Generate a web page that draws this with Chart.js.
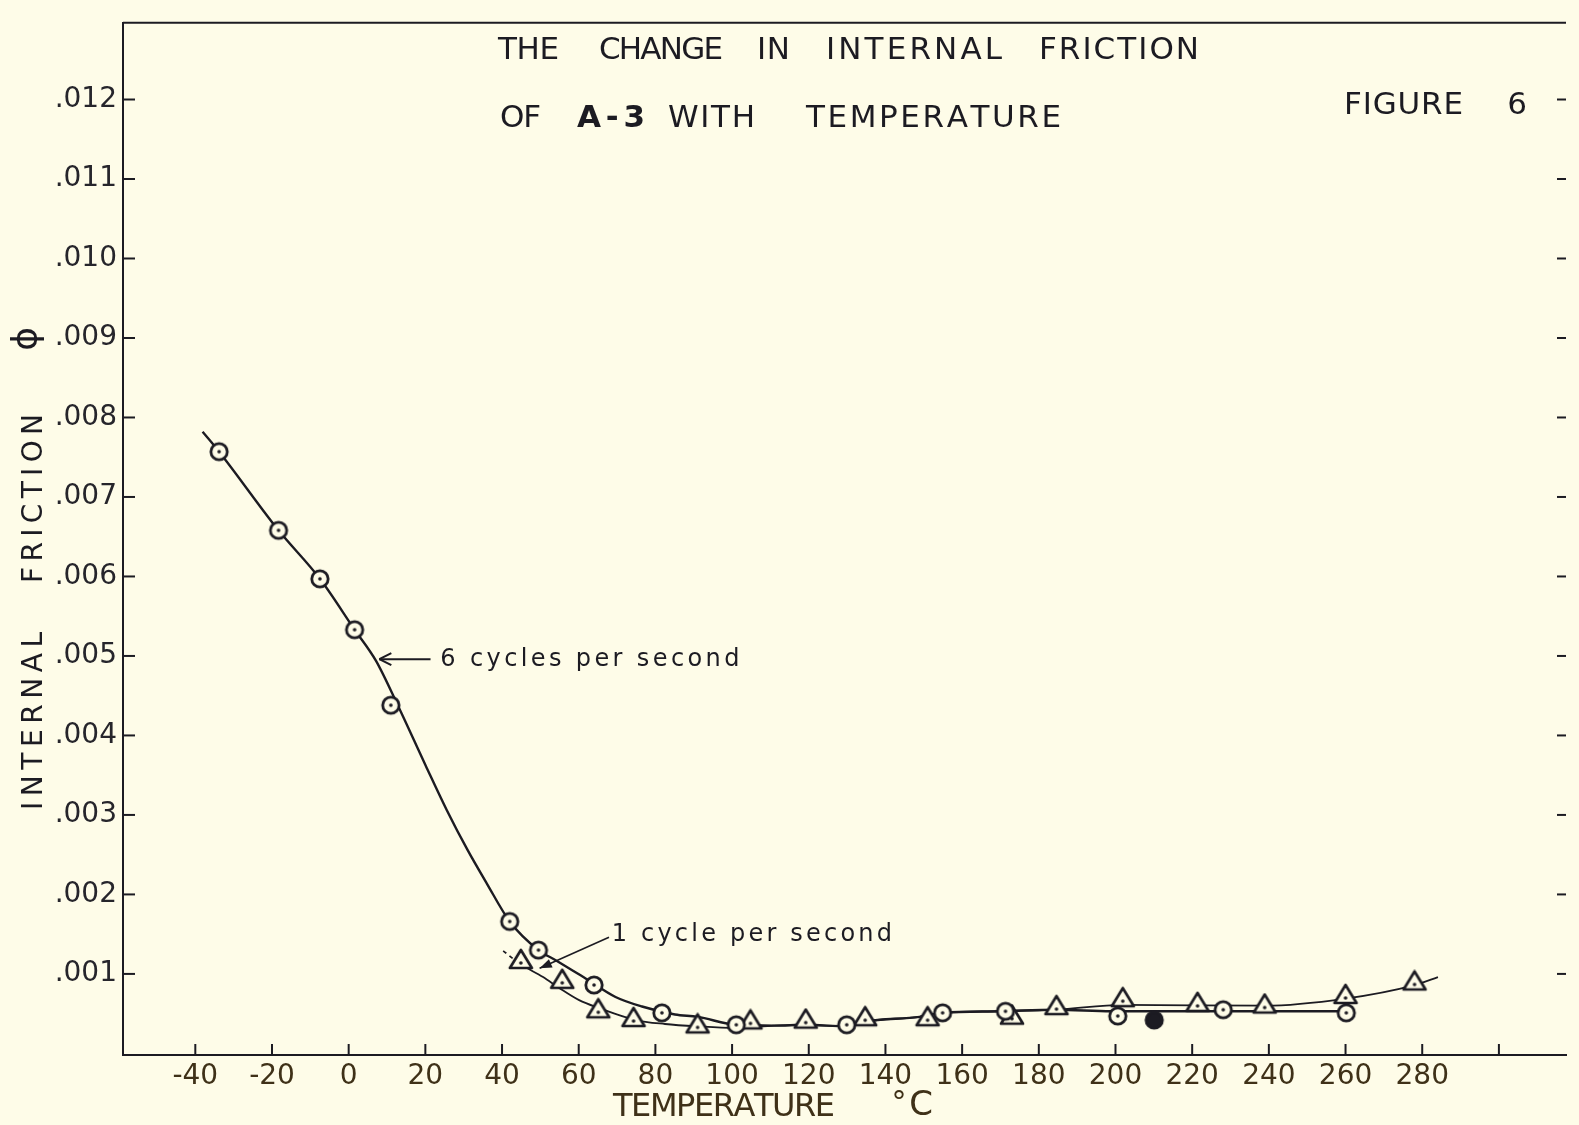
<!DOCTYPE html>
<html>
<head>
<meta charset="utf-8">
<title>The change in internal friction of A-3 with temperature</title>
<script src="https://cdn.jsdelivr.net/npm/chart.js@4.4.1/dist/chart.umd.min.js"></script>
<style>
  html, body { margin: 0; padding: 0; background: #fefce8; }
  canvas { display: block; }
</style>
</head>
<body>
<canvas id="fig6" width="1579" height="1125" style="width:1579px;height:1125px"></canvas>
<script>
// Readings at 6 cycles per second (circles): temperature °C, internal friction φ
const temp6 = [-33.8, -18.3, -7.5, 1.55, 11.0, 42.0, 49.5, 64.0, 81.7, 101.1, 129.9, 154.9, 171.3, 200.6, 210.1, 228.1, 260.2];
const phi6  = [0.00757, 0.00658, 0.00597, 0.00533, 0.00438, 0.00166, 0.00130, 0.00086, 0.00051, 0.00036, 0.00036, 0.00051, 0.00053, 0.00047, 0.00042, 0.00055, 0.00051];

// Readings at 1 cycle per second (triangles)
const temp1 = [44.9, 55.7, 65.1, 74.3, 91.0, 104.8, 119.2, 134.7, 151.0, 173.0, 184.6, 201.9, 221.4, 238.9, 260.0, 278.0];
const phi1  = [0.00115, 0.00090, 0.00053, 0.00042, 0.00034, 0.00039, 0.00040, 0.00043, 0.00043, 0.00045, 0.00057, 0.00067, 0.00061, 0.00059, 0.00071, 0.00088];

// Faired curve drawn through the 6 c/s readings
const curve6Temp = [-38.1, -33.8, -18.3, -7.5, 1.55, 7.1, 12.8, 20.1, 25.6, 31.0, 36.0, 42.0, 49.5, 54.1, 61.9, 69.6, 76.5, 85.1, 91.0, 101.1, 111, 119.2, 129.9, 134.7, 148.9, 154.9, 169.6, 184.6, 198.9, 228, 260];
const curve6Phi  = [0.00782, 0.00757, 0.00658, 0.00597, 0.00533, 0.00494, 0.00438, 0.00362, 0.00306, 0.00256, 0.00214, 0.00166, 0.00130, 0.00117, 0.00094, 0.00071, 0.00059, 0.00049, 0.00046, 0.00036, 0.00035, 0.00036, 0.00034, 0.00040, 0.00046, 0.00051, 0.00053, 0.00055, 0.00053, 0.00053, 0.00053];

// Faired curve drawn through the 1 c/s readings
const curve1Temp = [40.3, 44.6, 50.7, 55.0, 60.1, 65.3, 74.8, 82.5, 91.0, 100.6, 111, 119.2, 129.9, 134.7, 148.9, 154.9, 169.6, 184.6, 201.9, 238.9, 260, 278, 284.1];
const curve1Phi  = [0.00129, 0.00113, 0.00096, 0.00082, 0.00067, 0.00057, 0.00042, 0.00037, 0.00034, 0.00032, 0.00035, 0.00036, 0.00034, 0.00040, 0.00046, 0.00051, 0.00053, 0.00055, 0.00061, 0.00060, 0.00069, 0.00086, 0.00096];

// Axis ticks
const tempTicks  = [-40, -20, 0, 20, 40, 60, 80, 100, 120, 140, 160, 180, 200, 220, 240, 260, 280, 300];
const tempLabels = ['-40', '-20', '0', '20', '40', '60', '80', '100', '120', '140', '160', '180', '200', '220', '240', '260', '280', ''];
const phiTicks   = [0.001, 0.002, 0.003, 0.004, 0.005, 0.006, 0.007, 0.008, 0.009, 0.010, 0.011, 0.012];
const phiLabels  = ['.001', '.002', '.003', '.004', '.005', '.006', '.007', '.008', '.009', '.010', '.011', '.012'];

// The reading near 210 °C is inked solid
const SOLID_READING_6 = 14;

const paper = '#fefce8';
const ink = '#1c1b22';
const brownInk = '#3f3118';
const FONT = '"DejaVu Sans", "Liberation Sans", sans-serif';

function circleMarker(solid) {
  const c = document.createElement('canvas');
  c.width = 24; c.height = 24;
  const g = c.getContext('2d');
  g.beginPath();
  g.arc(12, 12, 8.2, 0, Math.PI * 2);
  g.fillStyle = solid ? ink : paper;
  g.fill();
  g.lineWidth = 2.8;
  g.strokeStyle = ink;
  g.stroke();
  if (!solid) {
    g.beginPath();
    g.arc(12, 12, 1.8, 0, Math.PI * 2);
    g.fillStyle = ink;
    g.fill();
  }
  return c;
}

function triangleMarker() {
  const c = document.createElement('canvas');
  c.width = 30; c.height = 28;
  const g = c.getContext('2d');
  const cx = 15, cy = 14, h = 18, half = 11;
  g.beginPath();
  g.moveTo(cx, cy - 2 * h / 3);
  g.lineTo(cx + half, cy + h / 3);
  g.lineTo(cx - half, cy + h / 3);
  g.closePath();
  g.fillStyle = paper;
  g.fill();
  g.lineJoin = 'round';
  g.lineWidth = 2.7;
  g.strokeStyle = ink;
  g.stroke();
  g.beginPath();
  g.arc(cx, cy + 1, 1.8, 0, Math.PI * 2);
  g.fillStyle = ink;
  g.fill();
  return c;
}

const openCircle = circleMarker(false);
const solidCircle = circleMarker(true);
const triangle = triangleMarker();

const pairs = (xs, ys) => xs.map((x, i) => ({ x, y: ys[i] }));

// Spread the letters of a word evenly between x0 and x1, centred on cap height at y
function spacedText(ctx, text, x0, x1, y, size, color, weight) {
  ctx.save();
  ctx.font = (weight || 'normal') + ' ' + size + 'px ' + FONT;
  ctx.fillStyle = color;
  ctx.textAlign = 'left';
  ctx.textBaseline = 'alphabetic';
  const chars = [...text];
  const widths = chars.map(ch => ctx.measureText(ch).width);
  const total = widths.reduce((a, b) => a + b, 0);
  const gap = chars.length > 1 ? (x1 - x0 - total) / (chars.length - 1) : 0;
  let x = chars.length > 1 ? x0 : (x0 + x1 - total) / 2;
  const base = y + 0.365 * size;
  chars.forEach((ch, i) => {
    ctx.fillText(ch, x, base);
    x += widths[i] + gap;
  });
  ctx.restore();
}

function stroke(ctx, x0, y0, x1, y1) {
  ctx.beginPath();
  ctx.moveTo(x0, y0);
  ctx.lineTo(x1, y1);
  ctx.stroke();
}

const lettering = {
  id: 'lettering',
  beforeDraw(chart) {
    const { ctx, width, height } = chart;
    ctx.save();
    ctx.fillStyle = paper;
    ctx.fillRect(0, 0, width, height);
    ctx.restore();
  },
  afterDraw(chart) {
    const { ctx, chartArea: a, scales: { x, y } } = chart;
    ctx.save();
    ctx.strokeStyle = ink;
    ctx.lineWidth = 2;

    // top edge of the frame
    stroke(ctx, a.left, a.top, a.right, a.top);

    // tick marks drawn inward from the axes
    x.ticks.forEach(t => {
      const px = x.getPixelForValue(t.value);
      stroke(ctx, px, a.bottom, px, a.bottom - 11);
    });
    y.ticks.forEach(t => {
      const py = y.getPixelForValue(t.value);
      stroke(ctx, a.left, py, a.left + 12, py);
      stroke(ctx, a.right, py, a.right - 9, py);
    });

    // title
    const t1 = 48, t2 = 116, ts = 31;
    spacedText(ctx, 'THE', 498, 559, t1, ts, ink);
    spacedText(ctx, 'CHANGE', 599, 723, t1, ts, ink);
    spacedText(ctx, 'IN', 757, 790, t1, ts, ink);
    spacedText(ctx, 'INTERNAL', 826, 1002, t1, ts, ink);
    spacedText(ctx, 'FRICTION', 1039, 1199, t1, ts, ink);
    spacedText(ctx, 'OF', 500, 541, t2, ts, ink);
    spacedText(ctx, 'A-3', 577, 645, t2, ts, ink, 'bold');
    spacedText(ctx, 'WITH', 668, 755, t2, ts, ink);
    spacedText(ctx, 'TEMPERATURE', 806, 1061, t2, ts, ink);
    spacedText(ctx, 'FIGURE', 1344, 1463, 103, ts, ink);
    spacedText(ctx, '6', 1509, 1525, 103, ts, ink);

    // vertical axis title, reading upward
    const vt = (word, yStart, yEnd, size) => {
      ctx.save();
      ctx.translate(32, yStart);
      ctx.rotate(-Math.PI / 2);
      spacedText(ctx, word, 0, yStart - yEnd, 0, size, ink);
      ctx.restore();
    };
    vt('INTERNAL', 810, 632, 28);
    vt('FRICTION', 583, 414, 28);
    ctx.save();
    ctx.translate(28, 339);
    ctx.rotate(-Math.PI / 2);
    ctx.font = '36px ' + FONT;
    ctx.fillStyle = ink;
    ctx.textAlign = 'center';
    ctx.textBaseline = 'middle';
    ctx.fillText('\u03D5', 0, 0);
    ctx.restore();

    // horizontal axis title
    spacedText(ctx, 'TEMPERATURE', 613, 835, 1104, 32, brownInk);
    ctx.save();
    ctx.font = '30px ' + FONT;
    ctx.fillStyle = brownInk;
    ctx.textAlign = 'center';
    ctx.textBaseline = 'alphabetic';
    ctx.fillText('\u00B0', 899, 1112);
    ctx.restore();
    spacedText(ctx, 'C', 912, 930, 1103, 34, brownInk);

    // "6 cycles per second" with its arrow
    const yA = y.getPixelForValue(0.00496);
    const tip6 = x.getPixelForValue(8.0);
    const tail6 = x.getPixelForValue(21.35);
    ctx.lineWidth = 2;
    stroke(ctx, tail6, yA, tip6, yA);
    stroke(ctx, tip6, yA, tip6 + 12, yA - 6);
    stroke(ctx, tip6, yA, tip6 + 12, yA + 6);
    spacedText(ctx, '6 cycles per second', x.getPixelForValue(23.9), x.getPixelForValue(101.9), yA - 2, 24, ink);

    // "1 cycle per second" with its leader
    const lx0 = x.getPixelForValue(67.9), ly0 = y.getPixelForValue(0.00146);
    const lx1 = x.getPixelForValue(49.8), ly1 = y.getPixelForValue(0.00107);
    ctx.lineWidth = 1.6;
    stroke(ctx, lx0, ly0, lx1, ly1);
    const ang = Math.atan2(ly1 - ly0, lx1 - lx0);
    ctx.beginPath();
    ctx.moveTo(lx1, ly1);
    ctx.lineTo(lx1 - 13 * Math.cos(ang - 0.35), ly1 - 13 * Math.sin(ang - 0.35));
    ctx.lineTo(lx1 - 13 * Math.cos(ang + 0.35), ly1 - 13 * Math.sin(ang + 0.35));
    ctx.closePath();
    ctx.fillStyle = ink;
    ctx.fill();
    spacedText(ctx, '1 cycle per second', x.getPixelForValue(68.6), x.getPixelForValue(141.7), y.getPixelForValue(0.00153), 24, ink);

    ctx.restore();
  }
};

new Chart(document.getElementById('fig6'), {
  type: 'scatter',
  data: {
    datasets: [
      {
        label: '6 cycles per second',
        data: pairs(temp6, phi6),
        showLine: false,
        pointStyle: c => (c.dataIndex === SOLID_READING_6 ? solidCircle : openCircle),
        pointRadius: 10,
        order: 0
      },
      {
        label: '1 cycle per second',
        data: pairs(temp1, phi1),
        showLine: false,
        pointStyle: triangle,
        pointRadius: 12,
        order: 0
      },
      {
        label: '6 c/s curve',
        data: pairs(curve6Temp, curve6Phi),
        showLine: true,
        fill: false,
        pointRadius: 0,
        borderColor: ink,
        borderWidth: 2.4,
        cubicInterpolationMode: 'monotone',
        order: 1
      },
      {
        label: '1 c/s curve',
        data: pairs(curve1Temp, curve1Phi),
        showLine: true,
        fill: false,
        pointRadius: 0,
        borderColor: ink,
        borderWidth: 1.8,
        cubicInterpolationMode: 'monotone',
        segment: {
          borderDash: c => (c.p0DataIndex === 0 ? [4, 4] : undefined)
        },
        order: 1
      }
    ]
  },
  options: {
    responsive: false,
    animation: false,
    devicePixelRatio: 1,
    layout: { padding: { top: 11, right: 0, bottom: 0, left: 0 } },
    plugins: {
      legend: { display: false },
      tooltip: { enabled: false }
    },
    scales: {
      x: {
        type: 'linear',
        min: -58.86,
        max: 317.5,
        afterBuildTicks: s => { s.ticks = tempTicks.map(v => ({ value: v })); },
        afterFit: s => { s.height = 70; },
        grid: { display: false, drawTicks: false },
        border: { display: true, color: ink, width: 2 },
        ticks: {
          autoSkip: false,
          maxRotation: 0,
          padding: 5,
          color: brownInk,
          font: { family: FONT, size: 28 },
          callback: (v, i) => tempLabels[i]
        }
      },
      y: {
        type: 'linear',
        min: -0.00002,
        max: 0.012965,
        afterBuildTicks: s => { s.ticks = phiTicks.map(v => ({ value: v })); },
        afterFit: s => { s.width = 123; },
        grid: { display: false, drawTicks: false },
        border: { display: true, color: ink, width: 2 },
        ticks: {
          autoSkip: false,
          padding: 6,
          color: '#26252b',
          font: { family: FONT, size: 28 },
          callback: (v, i) => phiLabels[i]
        }
      }
    }
  },
  plugins: [lettering]
});
</script>
</body>
</html>
